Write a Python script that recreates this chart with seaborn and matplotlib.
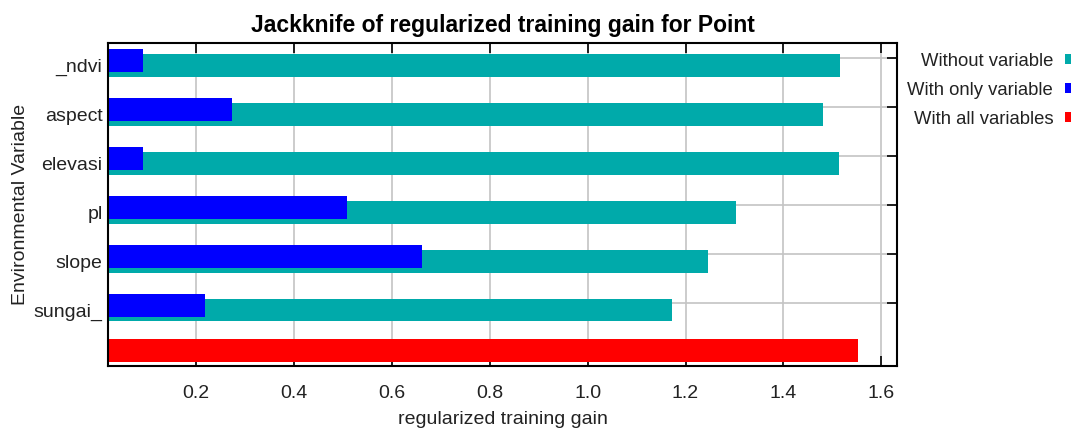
import numpy as np
import pandas as pd
import matplotlib
matplotlib.use("Agg")
import matplotlib.pyplot as plt
from matplotlib.patches import Patch
import seaborn as sns

# ---- data ----
variables = ["_ndvi", "aspect", "elevasi", "pl", "slope", "sungai_"]
without_variable = [1.515, 1.481, 1.513, 1.303, 1.246, 1.172]
with_only_variable = [0.092, 0.273, 0.092, 0.508, 0.661, 0.218]
with_all_variables = [1.553]
legend_labels = ["Without variable", "With only variable", "With all variables"]
x_ticks = [0.2, 0.4, 0.6, 0.8, 1.0, 1.2, 1.4, 1.6]

# ---- style ----
sns.set_theme(style="white")
FONT = ["Liberation Sans", "DejaVu Sans"]
plt.rcParams["font.family"] = FONT
TEAL, BLUE, RED = "#00AAAA", "#0000FF", "#FF0000"
TXT = "#222222"

# layout (row units)
rows = np.arange(len(variables), dtype=float)
blue_off = -0.102
grid_off = -0.145
red_pos = 5.828
bar_h = 0.47

df_without = pd.DataFrame({"gain": without_variable, "pos": rows})
df_only = pd.DataFrame({"gain": with_only_variable, "pos": rows + blue_off})
df_all = pd.DataFrame({"gain": with_all_variables, "pos": [red_pos]})

fig = plt.figure(figsize=(10.71, 4.29), dpi=100)
ax = fig.add_axes([108 / 1071, (429 - 366) / 429, (897 - 108) / 1071, (366 - 42.7) / 429])

common = dict(x="gain", y="pos", orient="y", native_scale=True, width=bar_h,
              saturation=1, errorbar=None, linewidth=0, ax=ax)
sns.barplot(data=df_without, color=TEAL, **common)
sns.barplot(data=df_only, color=BLUE, **common)
sns.barplot(data=df_all, color=RED, **common)

ax.set_xlim(0.0202, 1.632)
ax.set_ylim(6.145, -0.466)

# x axis
ax.set_xticks(x_ticks)
ax.set_xticklabels([f"{v:.1f}" for v in x_ticks])
ax.tick_params(axis="x", which="major", direction="in", length=7, width=1.2,
               color="black", top=True, bottom=True, pad=13.5,
               labelsize=14, labelcolor=TXT)
ax.xaxis.grid(True, color="#c4c4c4", linewidth=1.2)

# y axis: labels at rows, grid / right ticks slightly above
ax.set_yticks(rows)
ax.set_yticklabels(variables)
ax.tick_params(axis="y", which="major", length=0, pad=4, labelsize=14,
               labelcolor=TXT, left=False, right=False)
ax.set_yticks(rows + grid_off, minor=True)
ax.tick_params(axis="y", which="minor", direction="in", length=7, width=1.2,
               color="black", left=False, right=True)
ax.yaxis.grid(True, which="minor", color="#c4c4c4", linewidth=1.2)
ax.yaxis.grid(False, which="major")
ax.set_axisbelow(True)

for s in ax.spines.values():
    s.set_visible(True)
    s.set_color("black")
    s.set_linewidth(1.5)

ax.set_xlabel("regularized training gain", fontsize=14, color=TXT, labelpad=6.5)
ax.set_ylabel("Environmental Variable", fontsize=14, color=TXT, labelpad=3.5)
ax.set_title("Jackknife of regularized training gain for Point", fontsize=16.5,
             fontweight="bold", color="black", pad=8)

handles = [Patch(facecolor=c, edgecolor="none") for c in (TEAL, BLUE, RED)]
leg = fig.legend(handles, legend_labels, loc="upper right",
                 bbox_to_anchor=(1074 / 1071, (429 - 53) / 429),
                 frameon=False, markerfirst=False, fontsize=13.3,
                 handlelength=0.48, handleheight=0.45, handletextpad=0.65,
                 labelspacing=0.65, borderpad=0, borderaxespad=0)
for t in leg.get_texts():
    t.set_color(TXT)

fig.savefig("out.png", dpi=100)
